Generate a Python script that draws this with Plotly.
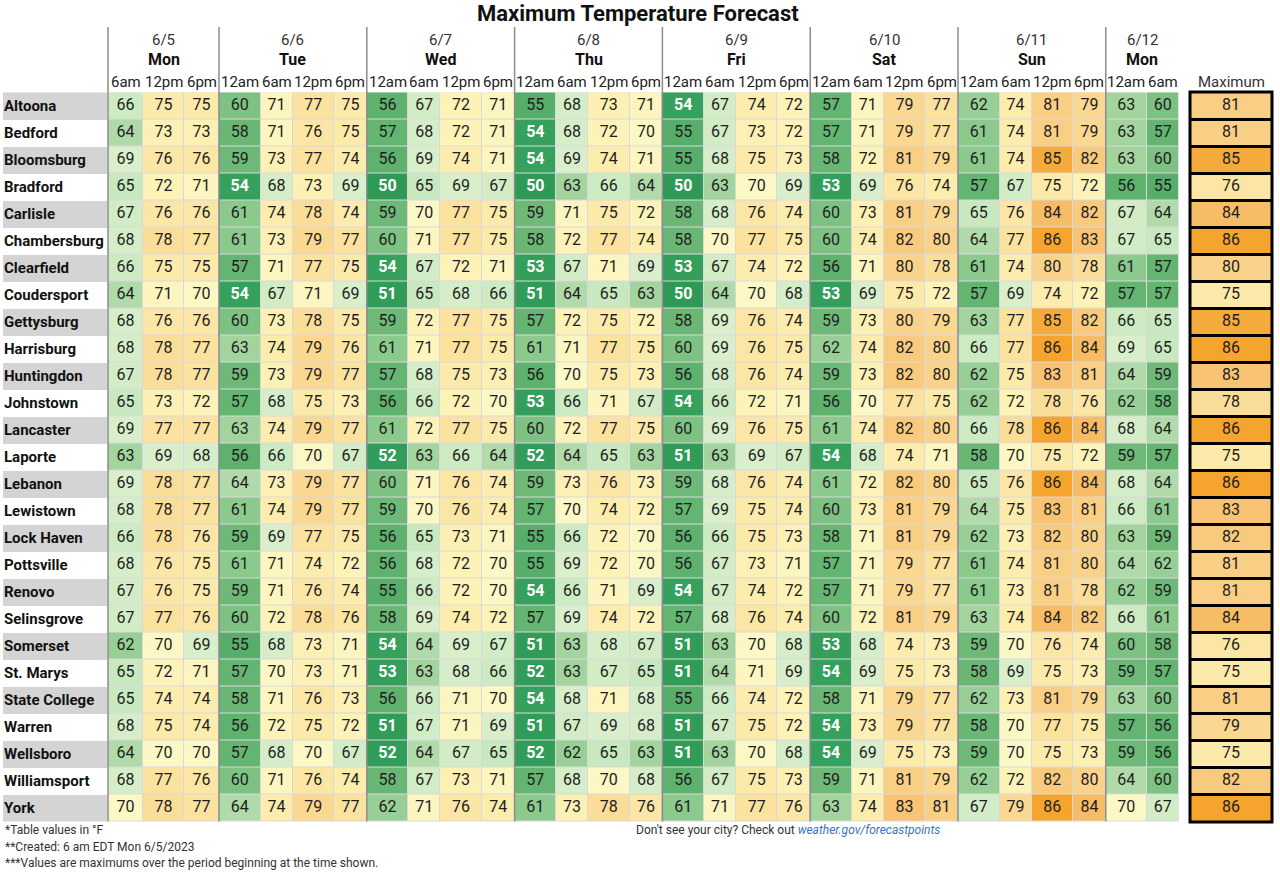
import plotly.graph_objects as go

# ---------------- data ----------------
cities = ["Altoona", "Bedford", "Bloomsburg", "Bradford", "Carlisle", "Chambersburg",
          "Clearfield", "Coudersport", "Gettysburg", "Harrisburg", "Huntingdon",
          "Johnstown", "Lancaster", "Laporte", "Lebanon", "Lewistown", "Lock Haven",
          "Pottsville", "Renovo", "Selinsgrove", "Somerset", "St. Marys",
          "State College", "Warren", "Wellsboro", "Williamsport", "York"]

dates = ["6/5", "6/6", "6/7", "6/8", "6/9", "6/10", "6/11", "6/12"]
days = ["Mon", "Tue", "Wed", "Thu", "Fri", "Sat", "Sun", "Mon"]
period_labels = [["6am", "12pm", "6pm"],
                 ["12am", "6am", "12pm", "6pm"], ["12am", "6am", "12pm", "6pm"],
                 ["12am", "6am", "12pm", "6pm"], ["12am", "6am", "12pm", "6pm"],
                 ["12am", "6am", "12pm", "6pm"], ["12am", "6am", "12pm", "6pm"],
                 ["12am", "6am"]]

altoona      = [66, 75, 75, 60, 71, 77, 75, 56, 67, 72, 71, 55, 68, 73, 71, 54, 67, 74, 72, 57, 71, 79, 77, 62, 74, 81, 79, 63, 60]
bedford      = [64, 73, 73, 58, 71, 76, 75, 57, 68, 72, 71, 54, 68, 72, 70, 55, 67, 73, 72, 57, 71, 79, 77, 61, 74, 81, 79, 63, 57]
bloomsburg   = [69, 76, 76, 59, 73, 77, 74, 56, 69, 74, 71, 54, 69, 74, 71, 55, 68, 75, 73, 58, 72, 81, 79, 61, 74, 85, 82, 63, 60]
bradford     = [65, 72, 71, 54, 68, 73, 69, 50, 65, 69, 67, 50, 63, 66, 64, 50, 63, 70, 69, 53, 69, 76, 74, 57, 67, 75, 72, 56, 55]
carlisle     = [67, 76, 76, 61, 74, 78, 74, 59, 70, 77, 75, 59, 71, 75, 72, 58, 68, 76, 74, 60, 73, 81, 79, 65, 76, 84, 82, 67, 64]
chambersburg = [68, 78, 77, 61, 73, 79, 77, 60, 71, 77, 75, 58, 72, 77, 74, 58, 70, 77, 75, 60, 74, 82, 80, 64, 77, 86, 83, 67, 65]
clearfield   = [66, 75, 75, 57, 71, 77, 75, 54, 67, 72, 71, 53, 67, 71, 69, 53, 67, 74, 72, 56, 71, 80, 78, 61, 74, 80, 78, 61, 57]
coudersport  = [64, 71, 70, 54, 67, 71, 69, 51, 65, 68, 66, 51, 64, 65, 63, 50, 64, 70, 68, 53, 69, 75, 72, 57, 69, 74, 72, 57, 57]
gettysburg   = [68, 76, 76, 60, 73, 78, 75, 59, 72, 77, 75, 57, 72, 75, 72, 58, 69, 76, 74, 59, 73, 80, 79, 63, 77, 85, 82, 66, 65]
harrisburg   = [68, 78, 77, 63, 74, 79, 76, 61, 71, 77, 75, 61, 71, 77, 75, 60, 69, 76, 75, 62, 74, 82, 80, 66, 77, 86, 84, 69, 65]
huntingdon   = [67, 78, 77, 59, 73, 79, 77, 57, 68, 75, 73, 56, 70, 75, 73, 56, 68, 76, 74, 59, 73, 82, 80, 62, 75, 83, 81, 64, 59]
johnstown    = [65, 73, 72, 57, 68, 75, 73, 56, 66, 72, 70, 53, 66, 71, 67, 54, 66, 72, 71, 56, 70, 77, 75, 62, 72, 78, 76, 62, 58]
lancaster    = [69, 77, 77, 63, 74, 79, 77, 61, 72, 77, 75, 60, 72, 77, 75, 60, 69, 76, 75, 61, 74, 82, 80, 66, 78, 86, 84, 68, 64]
laporte      = [63, 69, 68, 56, 66, 70, 67, 52, 63, 66, 64, 52, 64, 65, 63, 51, 63, 69, 67, 54, 68, 74, 71, 58, 70, 75, 72, 59, 57]
lebanon      = [69, 78, 77, 64, 73, 79, 77, 60, 71, 76, 74, 59, 73, 76, 73, 59, 68, 76, 74, 61, 72, 82, 80, 65, 76, 86, 84, 68, 64]
lewistown    = [68, 78, 77, 61, 74, 79, 77, 59, 70, 76, 74, 57, 70, 74, 72, 57, 69, 75, 74, 60, 73, 81, 79, 64, 75, 83, 81, 66, 61]
lock_haven   = [66, 78, 76, 59, 69, 77, 75, 56, 65, 73, 71, 55, 66, 72, 70, 56, 66, 75, 73, 58, 71, 81, 79, 62, 73, 82, 80, 63, 59]
pottsville   = [68, 76, 75, 61, 71, 74, 72, 56, 68, 72, 70, 55, 69, 72, 70, 56, 67, 73, 71, 57, 71, 79, 77, 61, 74, 81, 80, 64, 62]
renovo       = [67, 76, 75, 59, 71, 76, 74, 55, 66, 72, 70, 54, 66, 71, 69, 54, 67, 74, 72, 57, 71, 79, 77, 61, 73, 81, 78, 62, 59]
selinsgrove  = [67, 77, 76, 60, 72, 78, 76, 58, 69, 74, 72, 57, 69, 74, 72, 57, 68, 76, 74, 60, 72, 81, 79, 63, 74, 84, 82, 66, 61]
somerset     = [62, 70, 69, 55, 68, 73, 71, 54, 64, 69, 67, 51, 63, 68, 67, 51, 63, 70, 68, 53, 68, 74, 73, 59, 70, 76, 74, 60, 58]
st_marys     = [65, 72, 71, 57, 70, 73, 71, 53, 63, 68, 66, 52, 63, 67, 65, 51, 64, 71, 69, 54, 69, 75, 73, 58, 69, 75, 73, 59, 57]
state_college= [65, 74, 74, 58, 71, 76, 73, 56, 66, 71, 70, 54, 68, 71, 68, 55, 66, 74, 72, 58, 71, 79, 77, 62, 73, 81, 79, 63, 60]
warren       = [68, 75, 74, 56, 72, 75, 72, 51, 67, 71, 69, 51, 67, 69, 68, 51, 67, 75, 72, 54, 73, 79, 77, 58, 70, 77, 75, 57, 56]
wellsboro    = [64, 70, 70, 57, 68, 70, 67, 52, 64, 67, 65, 52, 62, 65, 63, 51, 63, 70, 68, 54, 69, 75, 73, 59, 70, 75, 73, 59, 56]
williamsport = [68, 77, 76, 60, 71, 76, 74, 58, 67, 73, 71, 57, 68, 70, 68, 56, 67, 75, 73, 59, 71, 81, 79, 62, 72, 82, 80, 64, 60]
york         = [70, 78, 77, 64, 74, 79, 77, 62, 71, 76, 74, 61, 73, 78, 76, 61, 71, 77, 76, 63, 74, 83, 81, 67, 79, 86, 84, 70, 67]

maximum = [81, 81, 85, 76, 84, 86, 80, 75, 85, 86, 83, 78, 86, 75, 86, 83, 82, 81, 81, 84, 76, 75, 81, 79, 75, 82, 86]

temps = [altoona, bedford, bloomsburg, bradford, carlisle, chambersburg, clearfield,
         coudersport, gettysburg, harrisburg, huntingdon, johnstown, lancaster, laporte,
         lebanon, lewistown, lock_haven, pottsville, renovo, selinsgrove, somerset,
         st_marys, state_college, warren, wellsboro, williamsport, york]

title = "Maximum Temperature Forecast"
notes = ["*Table values in °F", "**Created: 6 am EDT Mon 6/5/2023",
         "***Values are maximums over the period beginning at the time shown."]

# ---------------- layout constants (pixels) ----------------
W, H = 1280, 873
FONT = "Roboto"
X0 = 108.0
ROW_TOP = 92.5
ROW_H = 27.0
group_widths = [[35, 41, 35]] + [[41.5, 32, 41.5, 32.8]] * 6 + [[41, 32]]
MAX_L, MAX_R = 1191, 1271

# color scale anchors (temperature -> color)
VMIN, VMAX = 50, 86
anchors = [(50, "#2e9a56"), (54, "#36a05d"), (54.6, "#55ad68"), (57, "#64b572"),
           (59, "#6fb978"), (61, "#8bc98d"), (63, "#a3d49e"), (64, "#b0daa9"),
           (65, "#c8e8bf"), (67, "#d2edc6"), (69.4, "#daf0cd"), (69.8, "#fcf8c6"),
           (72, "#fdf3b9"), (74, "#fcedae"), (76, "#fbe6a5"), (78, "#fadd98"),
           (80, "#f9d38b"), (82, "#f8ca7e"), (84, "#f7bc66"), (85, "#f5aa3c"),
           (86, "#f5a42e")]
colorscale = [[(v - VMIN) / (VMAX - VMIN), c] for v, c in anchors]

# ---------------- geometry derived ----------------
col_edges = [X0]
group_edges = []
for g in group_widths:
    group_edges.append(col_edges[-1])
    for w in g:
        col_edges.append(col_edges[-1] + w)
group_edges.append(col_edges[-1])
col_centers = [(col_edges[i] + col_edges[i + 1]) / 2 for i in range(len(col_edges) - 1)]
n_rows = len(cities)
row_edges = [ROW_TOP + i * ROW_H for i in range(n_rows + 1)]
row_centers = [(row_edges[i] + row_edges[i + 1]) / 2 for i in range(n_rows)]

fig = go.Figure()

# city label band
fig.add_trace(go.Heatmap(
    z=[[i % 2] for i in range(n_rows)], x=[3, X0 - 1], y=row_edges,
    colorscale=[[0, "#d4d4d4"], [1, "#ffffff"]], zmin=0, zmax=1,
    showscale=False, hoverinfo="skip"))

# main heatmap
fig.add_trace(go.Heatmap(
    z=temps, x=col_edges, y=row_edges, colorscale=colorscale, zmin=VMIN, zmax=VMAX,
    xgap=1, ygap=1, showscale=False, hoverinfo="skip"))

# maximum column
fig.add_trace(go.Heatmap(
    z=[[m] for m in maximum], x=[MAX_L, MAX_R], y=row_edges, colorscale=colorscale,
    zmin=VMIN, zmax=VMAX, showscale=False, hoverinfo="skip"))

# cell texts
dx, dy, dt, wx, wy, wt = [], [], [], [], [], []
for r, row in enumerate(temps):
    for c, v in enumerate(row):
        if v <= 54:
            wx.append(col_centers[c]); wy.append(row_centers[r]); wt.append(str(v))
        else:
            dx.append(col_centers[c]); dy.append(row_centers[r]); dt.append(str(v))
for r, m in enumerate(maximum):
    dx.append((MAX_L + MAX_R) / 2); dy.append(row_centers[r]); dt.append(str(m))

fig.add_trace(go.Scatter(x=dx, y=dy, text=dt, mode="text", hoverinfo="skip",
                         textfont=dict(family=FONT, size=16, color="#1e1e1e")))
fig.add_trace(go.Scatter(x=wx, y=wy, text=wt, mode="text", hoverinfo="skip",
                         textfont=dict(family=FONT, size=16, color="#ffffff", weight="bold")))

# city names
fig.add_trace(go.Scatter(x=[4] * n_rows, y=[y + 1 for y in row_centers], text=cities,
                         mode="text", textposition="middle right", hoverinfo="skip",
                         textfont=dict(family=FONT, size=15, color="#111111", weight="bold")))

shapes = []
# light grid background under main heatmap
shapes.append(dict(type="rect", layer="below", x0=col_edges[0], x1=col_edges[-1],
                   y0=row_edges[0], y1=row_edges[-1], fillcolor="#d9d9d9",
                   line=dict(width=0)))
# black frame and row separators for maximum column
shapes.append(dict(type="rect", x0=MAX_L - 1, x1=MAX_R + 1,
                   y0=row_edges[0] - 0.5, y1=row_edges[-1] + 0.5,
                   line=dict(color="#000000", width=3)))
for ye in row_edges[1:-1]:
    shapes.append(dict(type="line", x0=MAX_L - 1, x1=MAX_R + 1, y0=ye, y1=ye,
                       line=dict(color="#000000", width=3)))
# day group separators
for gx in group_edges[:-1]:
    shapes.append(dict(type="line", x0=gx, x1=gx, y0=27, y1=row_edges[-1],
                       line=dict(color="#8c8c8c", width=1.5)))

annotations = []
annotations.append(dict(x=638, y=13, text=f"<b>{title}</b>", showarrow=False,
                        font=dict(family=FONT, size=22, color="#111111"),
                        xanchor="center", yanchor="middle"))
ci = 0
for gi, g in enumerate(period_labels):
    gx = (group_edges[gi] + group_edges[gi + 1]) / 2
    annotations.append(dict(x=gx, y=40, text=dates[gi], showarrow=False,
                            font=dict(family=FONT, size=15, color="#333333")))
    annotations.append(dict(x=gx, y=59, text=f"<b>{days[gi]}</b>", showarrow=False,
                            font=dict(family=FONT, size=16, color="#111111")))
    for lab in g:
        annotations.append(dict(x=col_centers[ci], y=82, text=lab, showarrow=False,
                                font=dict(family=FONT, size=15, color="#222222")))
        ci += 1
annotations.append(dict(x=(MAX_L + MAX_R) / 2, y=82, text="Maximum", showarrow=False,
                        font=dict(family=FONT, size=15, color="#333333")))
for i, n in enumerate(notes):
    annotations.append(dict(x=3, y=830 + i * 16.5, text=n, showarrow=False,
                            xanchor="left", font=dict(family=FONT, size=12, color="#333333")))
annotations.append(dict(x=634, y=830, xanchor="left", showarrow=False,
                        text="Don't see your city? Check out "
                             "<i><span style='color:#3b73c2'>weather.gov/forecastpoints</span></i>",
                        font=dict(family=FONT, size=12, color="#333333")))

fig.update_layout(
    width=W, height=H, margin=dict(l=0, r=0, t=0, b=0),
    paper_bgcolor="white", plot_bgcolor="white", showlegend=False,
    xaxis=dict(range=[0, W], visible=False, fixedrange=True),
    yaxis=dict(range=[H, 0], visible=False, fixedrange=True),
    shapes=shapes, annotations=annotations,
)

fig.write_html("out.html", config={"displayModeBar": False},
               post_script="document.body.style.margin='0';")
